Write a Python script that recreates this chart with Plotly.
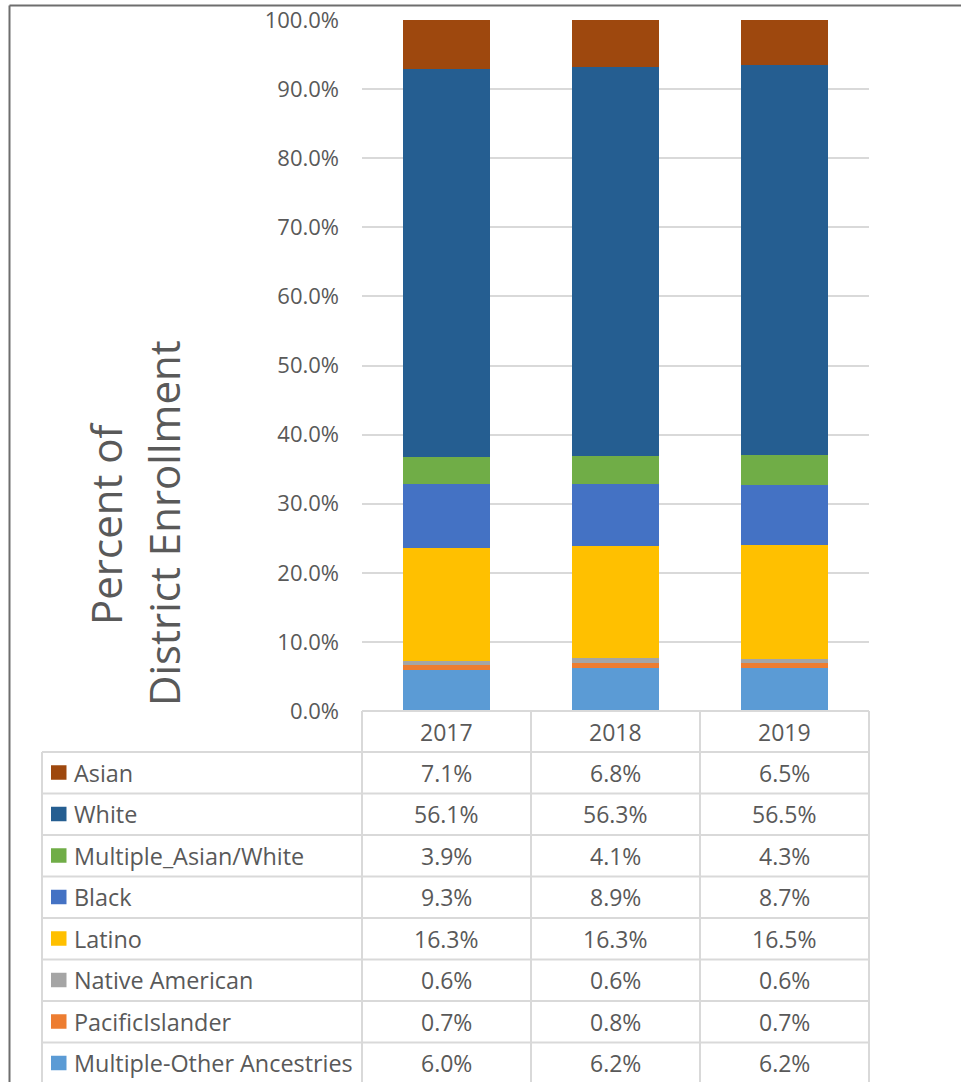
import plotly.graph_objects as go

# ---- data -------------------------------------------------------------
years = ["2017", "2018", "2019"]
groups = ["Asian", "White", "Multiple_Asian/White", "Black", "Latino",
          "Native American", "PacificIslander", "Multiple-Other Ancestries"]
asian = [7.1, 6.8, 6.5]
white = [56.1, 56.3, 56.5]
multiple_asian_white = [3.9, 4.1, 4.3]
black = [9.3, 8.9, 8.7]
latino = [16.3, 16.3, 16.5]
native_american = [0.6, 0.6, 0.6]
pacific_islander = [0.7, 0.8, 0.7]
multiple_other = [6.0, 6.2, 6.2]
colors = ["#9E480E", "#255E91", "#70AD47", "#4472C4",
          "#FFC000", "#A5A5A5", "#ED7D31", "#5B9BD5"]
y_ticks = [0, 10, 20, 30, 40, 50, 60, 70, 80, 90, 100]
title_lines = ["Percent of", "District Enrollment"]

series = [asian, white, multiple_asian_white, black, latino,
          native_american, pacific_islander, multiple_other]

# ---- page geometry (pixels) -------------------------------------------
W, H = 961, 1082
FONT = "Open Sans, Lato, sans-serif"
TEXT = "#595959"
GRID = "#D9D9D9"
SMALL = 23


def px(x):
    return x / W


def py(y):
    return 1 - y / H


plot_left, plot_right = 362, 869
plot_top, plot_bottom = 20, 711
table_left = 42
header_bottom = 752
row_h = 41.5
row_edges = [header_bottom + row_h * k for k in range(len(groups) + 1)]
row_centers = [(row_edges[k] + row_edges[k + 1]) / 2 for k in range(len(groups))]

fig = go.Figure()

# stacked bars, bottom segment first
for name, vals, col in reversed(list(zip(groups, series, colors))):
    fig.add_trace(go.Bar(
        x=years, y=vals, name=name,
        marker=dict(color=col, line=dict(width=0)),
        showlegend=False,
    ))

shapes = []
annotations = []

# outer chart frame (top and left edges)
shapes.append(dict(type="line", xref="paper", yref="paper",
                   x0=px(9.5), x1=1, y0=py(5.5), y1=py(5.5),
                   line=dict(color="#6E6E6E", width=2)))
shapes.append(dict(type="line", xref="paper", yref="paper",
                   x0=px(9.5), x1=px(9.5), y0=py(5.5), y1=0,
                   line=dict(color="#6E6E6E", width=2)))

# data table grid
tline = dict(color=GRID, width=2)
col_edges = [plot_left + (plot_right - plot_left) * k / len(years)
             for k in range(len(years) + 1)]
for cx in col_edges:
    shapes.append(dict(type="line", xref="paper", yref="paper",
                       x0=px(cx), x1=px(cx), y0=py(plot_bottom), y1=0,
                       line=tline))
shapes.append(dict(type="line", xref="paper", yref="paper",
                   x0=px(table_left), x1=px(table_left),
                   y0=py(header_bottom), y1=0, line=tline))
shapes.append(dict(type="line", xref="paper", yref="paper",
                   x0=px(plot_left), x1=px(plot_right),
                   y0=py(plot_bottom), y1=py(plot_bottom), line=tline))
for ry in row_edges[:-1]:
    shapes.append(dict(type="line", xref="paper", yref="paper",
                       x0=px(table_left), x1=px(plot_right),
                       y0=py(ry), y1=py(ry), line=tline))

# header row: years (x given as category index)
for i, yr in enumerate(years):
    annotations.append(dict(x=i, xref="x", y=py((plot_bottom + header_bottom) / 2),
                            yref="paper", text=yr, showarrow=False,
                            xanchor="center", yanchor="middle",
                            font=dict(family=FONT, size=SMALL, color=TEXT)))

# body rows: legend key, series name, values
for k, (name, vals, col) in enumerate(zip(groups, series, colors)):
    cy = row_centers[k]
    shapes.append(dict(type="rect", xref="paper", yref="paper",
                       x0=px(51), x1=px(66.5), y0=py(cy - 7.5), y1=py(cy + 7),
                       fillcolor=col, line=dict(width=0)))
    annotations.append(dict(x=px(72), xref="paper", y=py(cy), yref="paper",
                            text=name, showarrow=False,
                            xanchor="left", yanchor="middle",
                            font=dict(family=FONT, size=23.4, color=TEXT)))
    for i, v in enumerate(vals):
        annotations.append(dict(x=i, xref="x", y=py(cy), yref="paper",
                                text=f"{v:.1f}%", showarrow=False,
                                xanchor="center", yanchor="middle",
                                font=dict(family=FONT, size=SMALL, color=TEXT)))

# vertical axis title, one annotation per line
for line_text, cx in zip(title_lines, [105, 163]):
    annotations.append(dict(x=px(cx), xref="paper", y=py(523), yref="paper",
                            text=line_text, textangle=-90, showarrow=False,
                            xanchor="center", yanchor="middle",
                            font=dict(family=FONT, size=42, color=TEXT)))

fig.update_layout(
    width=W, height=H,
    margin=dict(l=0, r=0, t=0, b=0, autoexpand=False),
    paper_bgcolor="white", plot_bgcolor="white",
    barmode="stack", bargap=0.485,
    xaxis=dict(type="category", domain=[px(plot_left), px(plot_right)],
               range=[-0.5, len(years) - 0.5], automargin=False,
               showticklabels=False, showgrid=False, showline=False,
               zeroline=False, ticks=""),
    yaxis=dict(domain=[py(plot_bottom), py(plot_top)], range=[0, 100],
               automargin=False,
               tickvals=y_ticks, ticktext=[f"{t:.1f}%" for t in y_ticks],
               showgrid=True, gridcolor=GRID, gridwidth=1.5,
               zeroline=False, showline=False, ticks="",
               ticklabelstandoff=22,
               tickfont=dict(family=FONT, size=22, color=TEXT)),
    shapes=shapes,
    annotations=annotations,
)

fig.write_html("out.html")
